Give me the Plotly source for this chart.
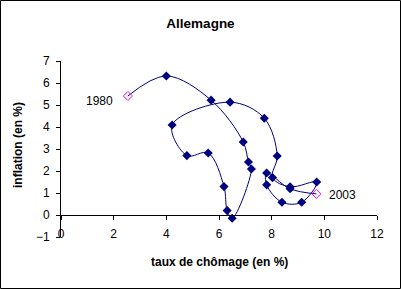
import plotly.graph_objects as go

years = list(range(1980, 2004))
chomage = [2.54, 4.0, 5.7, 6.92, 7.12, 7.23, 6.5, 6.31, 6.19, 5.59, 4.78, 4.22,
           6.42, 7.72, 8.21, 8.03, 8.7, 9.71, 9.14, 8.39, 7.81, 7.81, 8.7, 9.7]
inflation = [5.41, 6.32, 5.22, 3.32, 2.41, 2.09, -0.15, 0.2, 1.29, 2.82, 2.7, 4.09,
             5.13, 4.4, 2.68, 1.7, 1.28, 1.5, 0.58, 0.58, 1.37, 1.91, 1.19, 0.96]
x_ticks = [0, 2, 4, 6, 8, 10, 12]
y_ticks = [-1, 0, 1, 2, 3, 4, 5, 6, 7]

W, H = 401, 289
ML, MR, MT, MB = 61, 24, 61, 52
PW, PH = W - ML - MR, H - MT - MB
FONT = "Liberation Sans, Arial, sans-serif"
NAVY = "#000080"
MAG = "#FF00FF"

fig = go.Figure()
fig.add_trace(go.Scatter(
    x=chomage, y=inflation, mode="lines",
    line=dict(color=NAVY, width=1, shape="spline", smoothing=1.0),
    hoverinfo="skip", showlegend=False))
fig.add_trace(go.Scatter(
    x=chomage[1:-1], y=inflation[1:-1], mode="markers",
    marker=dict(symbol="diamond", size=7, color=NAVY),
    showlegend=False))
fig.add_trace(go.Scatter(
    x=[chomage[0], chomage[-1]], y=[inflation[0], inflation[-1]], mode="markers",
    marker=dict(symbol="diamond-open", size=7, color=MAG, line=dict(width=1, color=MAG)),
    showlegend=False))
# dummy trace so the zero-level x axis is drawn
fig.add_trace(go.Scatter(x=[None], y=[None], xaxis="x2", yaxis="y",
                         showlegend=False, hoverinfo="skip"))

fig.add_annotation(x=chomage[0], y=inflation[0], text=str(years[0]), showarrow=False,
                   xanchor="right", yanchor="middle", xshift=-13, yshift=-5,
                   font=dict(family=FONT, size=12, color="black"))
fig.add_annotation(x=chomage[-1], y=inflation[-1], text=str(years[-1]), showarrow=False,
                   xanchor="left", yanchor="middle", xshift=11, yshift=-1,
                   font=dict(family=FONT, size=12, color="black"))

def px_to_paper_x(px):
    return (px - ML) / PW

def px_to_paper_y(py):
    return (H - MB - py) / PH

fig.add_annotation(x=0.5, y=px_to_paper_y(262), xref="paper", yref="paper",
                   text="<b>taux de chômage (en %)</b>", showarrow=False,
                   xanchor="center", yanchor="middle",
                   font=dict(family=FONT, size=12, color="black"))
fig.add_annotation(x=px_to_paper_x(18), y=px_to_paper_y(145), xref="paper", yref="paper",
                   text="<b>inflation (en %)</b>", showarrow=False, textangle=-90,
                   xanchor="center", yanchor="middle",
                   font=dict(family=FONT, size=12, color="black"))

fig.add_shape(type="rect", xref="paper", yref="paper",
              x0=px_to_paper_x(0.5), x1=px_to_paper_x(W - 0.5),
              y0=px_to_paper_y(H - 0.5), y1=px_to_paper_y(0.5),
              line=dict(color="black", width=1), layer="above")

fig.update_layout(
    width=W, height=H,
    margin=dict(l=ML, r=MR, t=MT, b=MB, pad=0),
    paper_bgcolor="white", plot_bgcolor="white",
    title=dict(text="<b>Allemagne</b>", x=0.5, xanchor="center", y=1 - 23 / H,
               yanchor="middle", yref="container",
               font=dict(family=FONT, size=13.5, color="black")),
    font=dict(family=FONT, size=12, color="black"),
    xaxis=dict(range=[0, 12], tickvals=x_ticks, showgrid=False, zeroline=False,
               showline=False, ticks="", ticklabelstandoff=-12,
               tickfont=dict(family=FONT, size=12, color="black"), fixedrange=True),
    xaxis2=dict(range=[0, 12], tickvals=x_ticks, overlaying="x", anchor="free",
                position=1 / 8, side="bottom", showgrid=False, zeroline=False,
                showline=True, linecolor="black", linewidth=1,
                ticks="outside", ticklen=4, tickcolor="black", tickwidth=1,
                showticklabels=False),
    yaxis=dict(range=[-1, 7], tickvals=y_ticks, showgrid=False, zeroline=False,
               showline=True, linecolor="black", linewidth=1,
               ticks="outside", ticklen=4, tickcolor="black", tickwidth=1,
               ticklabelstandoff=4,
               tickfont=dict(family=FONT, size=12, color="black"), fixedrange=True),
)

fig.write_html("out.html")
